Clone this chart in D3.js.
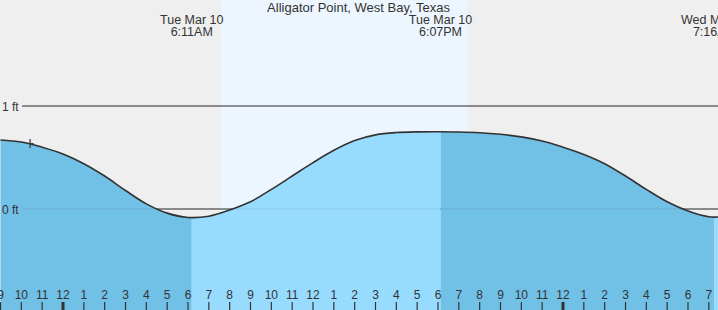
<!DOCTYPE html>
<html><head><meta charset="utf-8">
<script src="https://cdn.jsdelivr.net/npm/d3@7/dist/d3.min.js"></script>
<style>
html,body{margin:0;padding:0;background:#efefef;}
svg{display:block;font-family:"Liberation Sans",Arial,sans-serif;}
</style></head><body>
<svg id="c" width="718" height="310"></svg>
<script>
// hours relative to Tue Mar 10 00:00
const title = "Alligator Point, West Bay, Texas";
const hours = [-3,-2,-1,0,1,2,3,4,5,6,7,8,9,10,11,12,13,14,15,16,17,18,19,20,21,22,23,24,25,26,27,28,29,30,31,31.5];
const levels = [0.67,0.65,0.60,0.535,0.44,0.32,0.18,0.05,-0.04,-0.082,-0.07,-0.01,0.07,0.19,0.32,0.45,0.57,0.665,0.72,0.742,0.749,0.75,0.748,0.741,0.725,0.70,0.66,0.60,0.53,0.44,0.32,0.19,0.07,-0.02,-0.075,-0.077];
const extremeHours = [6.18, 18.12, 31.27];
const extremeDates = ["Tue Mar 10", "Tue Mar 10", "Wed Mar 11"];
const extremeTimes = ["6:11AM", "6:07PM", "7:16AM"];
const daylight = [7.58, 19.41];
const nowHour = -1.58, nowLevel = 0.636;
const gridLevels = [0, 1];
const gridLabels = ["0 ft", "1 ft"];
const tickHours = d3.range(-3, 32);

const W = 718, H = 310;
const x = d3.scaleLinear().domain([-3.024, 31.44]).range([0, W]);
const y = d3.scaleLinear().domain([0, 1]).range([209, 106]);
const svg = d3.select("#c");
const data = hours.map((h, i) => ({h, v: levels[i]}));
const curve = d3.curveCatmullRom.alpha(0.5);

svg.append("rect").attr("width", W).attr("height", H).attr("fill", "#efefef");
svg.append("rect").attr("x", x(daylight[0])).attr("y", 0)
  .attr("width", x(daylight[1]) - x(daylight[0])).attr("height", H).attr("fill", "#edf6fe");

// grid lines
svg.selectAll(".g").data(gridLevels).enter().append("line")
  .attr("x1", 22).attr("x2", W).attr("y1", d => y(d)).attr("y2", d => y(d))
  .attr("stroke", "#333").attr("stroke-width", 1.2);

// water segments
const bounds = [x.domain()[0]].concat(extremeHours, [x.domain()[1] + 1]);
const area = d3.area().x(d => x(d.h)).y0(H).y1(d => y(d.v)).curve(curve);
const defs = svg.append("defs");
for (let i = 0; i < bounds.length - 1; i++) {
  defs.append("clipPath").attr("id", "cp" + i).append("rect")
    .attr("x", x(bounds[i])).attr("y", 0)
    .attr("width", x(bounds[i + 1]) - x(bounds[i])).attr("height", H);
  svg.append("path").datum(data).attr("d", area)
    .attr("fill", i % 2 === 0 ? "#71c0e6" : "#97dbff")
    .attr("clip-path", "url(#cp" + i + ")");
}
// faint grid over water
svg.selectAll(".g2").data(gridLevels).enter().append("line")
  .attr("x1", 22).attr("x2", W).attr("y1", d => y(d)).attr("y2", d => y(d))
  .attr("stroke", "#333").attr("stroke-opacity", 0.12).attr("stroke-width", 1.2);
svg.selectAll(".gl").data(gridLevels).enter().append("text")
  .attr("x", 2).attr("y", d => y(d) + 4.5).attr("font-size", 12).attr("fill", "#333")
  .text((d, i) => gridLabels[i]);

// curve
const line = d3.line().x(d => x(d.h)).y(d => y(d.v)).curve(curve);
svg.append("path").datum(data).attr("d", line)
  .attr("fill", "none").attr("stroke", "#333").attr("stroke-width", 1.6);

// now marker
const nx = x(nowHour), ny = y(nowLevel);
svg.append("path").attr("d", `M${nx-3.5},${ny}H${nx+3.5}M${nx},${ny-4.5}V${ny+4.5}`)
  .attr("stroke", "#333").attr("stroke-width", 1.2);

// hour ticks
const tg = svg.append("g");
tg.selectAll("line").data(tickHours).enter().append("line")
  .attr("x1", d => x(d)).attr("x2", d => x(d)).attr("y1", 302).attr("y2", H)
  .attr("stroke", "#333").attr("stroke-width", d => (d % 24 === 0) ? 3 : 1.2);
tg.selectAll("text").data(tickHours).enter().append("text")
  .attr("x", d => x(d)).attr("y", 299).attr("text-anchor", "middle")
  .attr("font-size", 12).attr("fill", "#333")
  .text(d => { const m = ((d % 12) + 12) % 12; return m === 0 ? 12 : m; });

// title and extreme labels
svg.append("text").attr("x", 358.5).attr("y", 12).attr("text-anchor", "middle")
  .attr("font-size", 13).attr("fill", "#333").text(title);
const el = svg.selectAll(".el").data(extremeHours).enter().append("g");
el.append("text").attr("x", d => x(d)).attr("y", 24).attr("text-anchor", "middle")
  .attr("font-size", 12.5).attr("fill", "#333").text((d, i) => extremeDates[i]);
el.append("text").attr("x", d => x(d)).attr("y", 36).attr("text-anchor", "middle")
  .attr("font-size", 12.5).attr("fill", "#333").text((d, i) => extremeTimes[i]);
</script></body></html>
